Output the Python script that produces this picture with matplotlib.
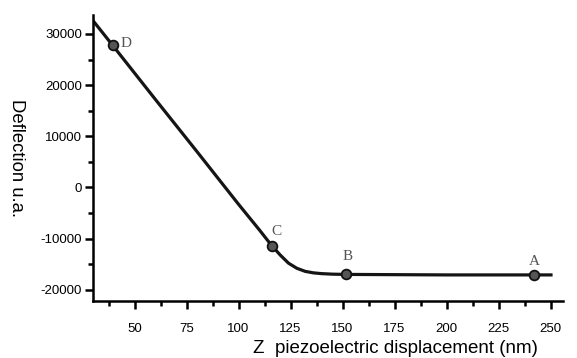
import matplotlib.pyplot as plt
from matplotlib.ticker import MultipleLocator

plt.rcParams["axes.unicode_minus"] = False

# curve
z_nm = [30, 39.4, 60, 80, 100, 110, 116, 120, 124, 128, 132, 136, 140, 145, 151,
        175, 200, 225, 242, 251]
deflection = [32600, 27800, 17200, 7000, -3300, -8300, -11400, -13200, -14800,
              -15800, -16400, -16700, -16850, -16950, -17000,
              -17050, -17100, -17100, -17100, -17100]

# labelled points
pt_names = ["A", "B", "C", "D"]
pt_z = [242, 151.5, 116, 39.4]
pt_defl = [-17100, -17000, -11400, 27800]

fig = plt.figure(figsize=(5.77, 3.58), dpi=100)
ax = fig.add_axes([0.1612, 0.1592, 0.8145, 0.7988])

ax.plot(z_nm, deflection, color="#151515", lw=2.3, solid_capstyle="butt", zorder=2)
ax.plot(pt_z, pt_defl, "o", ms=7, mfc="#555555", mec="#111111", mew=1.3, zorder=3)

# label offsets in points
offsets = {"A": (0, 10), "B": (1.5, 13), "C": (3, 10), "D": (10, 1)}
for name, x, y in zip(pt_names, pt_z, pt_defl):
    ax.annotate(name, (x, y), xytext=offsets[name], textcoords="offset points",
                family="Liberation Serif", fontsize=11, color="#555555",
                ha="center", va="center")

ax.set_xlim(30, 256)
ax.set_ylim(-22200, 33700)
ax.xaxis.set_major_locator(MultipleLocator(25))
ax.xaxis.set_minor_locator(MultipleLocator(12.5))
ax.yaxis.set_major_locator(MultipleLocator(10000))
ax.yaxis.set_minor_locator(MultipleLocator(5000))

for s in ["top", "right"]:
    ax.spines[s].set_visible(False)
for s in ["left", "bottom"]:
    ax.spines[s].set_linewidth(1.8)

ax.tick_params(which="major", direction="out", length=6, width=1.8,
               labelsize=9.5, pad=2)
ax.tick_params(which="minor", direction="out", length=3.5, width=1.8)
ax.tick_params(axis="x", pad=10)
for lab in ax.get_xticklabels() + ax.get_yticklabels():
    lab.set_family("Liberation Sans")

fig.text(0.685, 0.015, "Z  piezoelectric displacement (nm)", family="Liberation Sans",
         fontsize=13.5, ha="center", va="baseline")
fig.text(0.029, 0.559, "Deflection u.a.", family="Liberation Sans", fontsize=13.3,
         rotation=-90, ha="center", va="center")

fig.savefig("out.png", dpi=100)
